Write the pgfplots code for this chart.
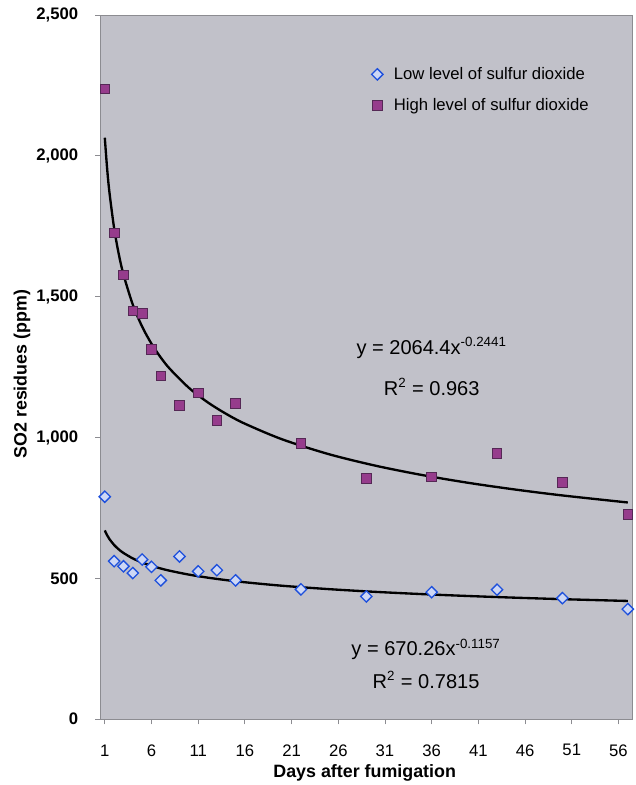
\documentclass[border=0pt]{standalone}
\usepackage{fontspec}
\setmainfont{Liberation Sans}
\usepackage{pgfplots}
\pgfplotsset{compat=1.18}

\definecolor{plotbg}{RGB}{193,193,201}
\definecolor{framegray}{RGB}{140,140,145}
\definecolor{lowedge}{RGB}{30,80,220}
\definecolor{lowfill}{RGB}{205,215,245}
\definecolor{highfill}{RGB}{150,60,140}
\definecolor{highedge}{RGB}{85,40,85}

\begin{document}
\begin{tikzpicture}
\begin{axis}[
    scale only axis,
    width=319pt, height=422pt,
    xmin=0.5, xmax=57.5,
    ymin=0, ymax=2500,
    xtick={1,6,...,56},
    ytick={0,500,...,2500},
    axis background/.style={fill=plotbg},
    axis line style={framegray, line width=0.6pt},
    tick style={framegray, line width=0.5pt},
    tick align=outside,
    major tick length=3pt,
    xtick pos=bottom, ytick pos=left,
    /pgf/number format/.cd, 1000 sep={,}, assume math mode=true,
    /pgfplots/.cd,
    xticklabel style={font=\fontsize{10}{12}\selectfont, anchor=center, yshift=-15.6pt},
    yticklabel style={font=\fontsize{10}{12}\selectfont\bfseries, anchor=east, inner sep=0pt, xshift=-10pt},
    xlabel={Days after fumigation},
    ylabel={SO2 residues (ppm)},
    xlabel style={font=\fontsize{10.7}{12}\selectfont\bfseries, at={(axis description cs:0.497,0)}, anchor=center, yshift=-32.4pt},
    ylabel style={font=\fontsize{10.7}{12}\selectfont\bfseries, at={(axis description cs:-0.1467,0.49)}, anchor=center},
    legend style={draw=none, fill=none, font=\fontsize{10}{12}\selectfont,
        at={(axis description cs:0.5,0.936)}, anchor=north west,
        row sep=6pt, legend cell align=left, nodes={inner xsep=6.5pt}},
]
% measured values
\addplot[only marks, mark=square*, mark size=2.4pt,
    mark options={rotate=45, draw=lowedge, fill=lowfill, line width=0.8pt}]
    coordinates {(1,790) (2,561) (3,543) (4,519) (5,567) (6,541) (7,493) (9,578)
    (11,525) (13,529) (15,493) (22,461) (29,436) (36,451) (43,460) (50,430) (57,391)};
\addlegendentry{Low level of sulfur dioxide}
\addplot[only marks, mark=square*, mark size=2.9pt,
    mark options={draw=highedge, fill=highfill, line width=0.5pt}]
    coordinates {(1,2238) (2,1727) (3,1577) (4,1450) (5,1440) (6,1312) (7,1219) (9,1115)
    (11,1158) (13,1061) (15,1120) (22,979) (29,855) (36,860) (43,944) (50,840) (57,727)};
\addlegendentry{High level of sulfur dioxide}

% power trend lines, sampled
\addplot[forget plot, black, line width=1.4pt, smooth] coordinates {
    (1,2064.4) (1.25,1954.9) (1.5,1869.9) (2,1743.0) (2.5,1650.7) (3,1578.8)
    (4,1471.7) (5,1393.7) (6,1333.1) (7,1283.8) (8,1242.7) (10,1176.7)
    (12,1125.5) (14,1084.0) (16,1049.2) (20,993.6) (25,940.9) (30,900.0)
    (35,866.8) (40,838.9) (45,815.2) (50,794.5) (57,769.5)};
\addplot[forget plot, black, line width=1.4pt, smooth] coordinates {
    (1,670.3) (1.25,653.2) (1.5,639.5) (2,618.6) (2.5,602.8) (3,590.3)
    (4,570.9) (5,556.4) (6,544.8) (7,535.1) (8,526.9) (10,513.5)
    (12,502.8) (14,493.9) (16,486.3) (20,473.9) (25,461.9) (30,452.2)
    (35,444.2) (40,437.4) (45,431.5) (50,426.3) (57,419.9)};

\node[font=\fontsize{12}{14}\selectfont] at (axis cs:36,1318) {y = 2064.4x\textsuperscript{-0.2441}};
\node[font=\fontsize{12}{14}\selectfont] at (axis cs:36,1180) {R\textsuperscript{2} = 0.963};
\node[font=\fontsize{12}{14}\selectfont] at (axis cs:35.4,247) {y = 670.26x\textsuperscript{-0.1157}};
\node[font=\fontsize{12}{14}\selectfont] at (axis cs:35.4,140) {R\textsuperscript{2} = 0.7815};
\end{axis}
\pgfresetboundingbox
\path (current axis.south west) ++(-60pt,-39.4pt) rectangle ([shift={(2pt,9pt)}]current axis.north east);
\end{tikzpicture}
\end{document}
